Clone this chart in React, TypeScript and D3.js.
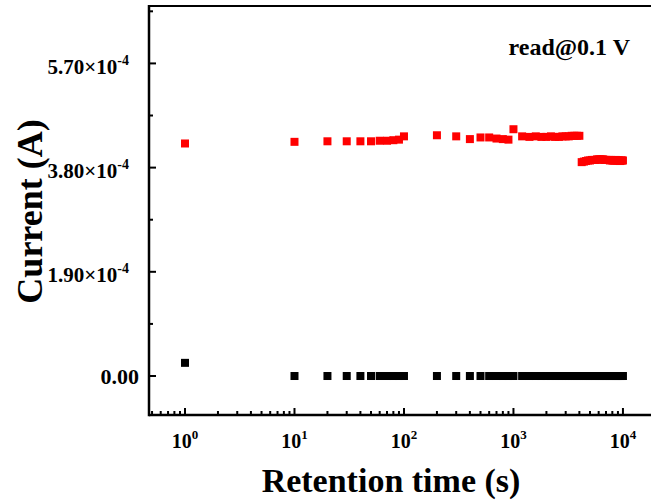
import React from "react";
import * as d3 from "d3";

const times = [1, 10, 20, 30, 40, 50, 60, 70, 80, 90, 100, 200, 300, 400, 500, 600, 700, 800, 900, 1000,
  1200, 1400, 1600, 1800, 2000, 2200, 2400, 2600, 2800, 3000, 3200, 3400, 3600, 3800, 4000,
  4200, 4400, 4600, 4800, 5000, 5200, 5400, 5600, 5800, 6000, 6200, 6400, 6600, 6800, 7000,
  7200, 7400, 7600, 7800, 8000, 8200, 8400, 8600, 8800, 9000, 9200, 9400, 9600, 9800, 10000];

// current in units of 1e-4 A
const redCurrent = [4.24, 4.27, 4.28, 4.28, 4.28, 4.28, 4.29, 4.29, 4.30, 4.31, 4.37, 4.39, 4.37, 4.32,
  4.35, 4.35, 4.33, 4.32, 4.31, 4.50,
  4.37, 4.36, 4.37, 4.36, 4.36, 4.37, 4.36, 4.36, 4.37, 4.37, 4.37, 4.38, 4.38, 4.38, 4.38,
  3.90, 3.91, 3.92, 3.93, 3.93, 3.94, 3.94, 3.94, 3.95, 3.95, 3.95, 3.95, 3.95, 3.94, 3.94,
  3.94, 3.94, 3.93, 3.94, 3.93, 3.93, 3.93, 3.94, 3.93, 3.93, 3.93, 3.92, 3.93, 3.93, 3.93];

const blackCurrent = [0.24, 0, 0, 0, 0, 0, 0, 0, 0, 0, 0, 0, 0, 0, 0, 0, 0, 0, 0, 0,
  0, 0, 0, 0, 0, 0, 0, 0, 0, 0, 0, 0, 0, 0, 0,
  0, 0, 0, 0, 0, 0, 0, 0, 0, 0, 0, 0, 0, 0, 0,
  0, 0, 0, 0, 0, 0, 0, 0, 0, 0, 0, 0, 0, 0, 0];

const yTicks = [0, 1.9, 3.8, 5.7];
const yTickMain = ["0.00", "1.90×10", "3.80×10", "5.70×10"];
const yTickExp = ["", "-4", "-4", "-4"];
const yMinorTicks = [0.95, 2.85, 4.75, 6.65];
const xTicks = [1, 10, 100, 1000, 10000];
const xTickExp = ["0", "1", "2", "3", "4"];
const xMinorTicks = [0.5, 0.6, 0.7, 0.8, 0.9,
  2, 3, 4, 5, 6, 7, 8, 9, 20, 30, 40, 50, 60, 70, 80, 90,
  200, 300, 400, 500, 600, 700, 800, 900, 2000, 3000, 4000, 5000, 6000, 7000, 8000, 9000];

const W = 651, H = 504;
const left = 149, top = 6, bottom = 415, right = 660;
const FONT = "'Liberation Serif', 'Times New Roman', serif";

export default function App() {
  const x = d3.scaleLog().domain([0.469, 21800]).range([left, right]);
  const y = d3.scaleLinear().domain([-0.711, 6.747]).range([bottom, top]);
  const ms = 8;

  return (
    <svg width={W} height={H} style={{ position: "absolute", left: 0, top: 0, background: "#fff" }}
      fontFamily={FONT}>
      <rect x={0} y={0} width={W} height={H} fill="#fff" />
      {times.map((t, i) => (
        <rect key={"b" + i} x={x(t) - ms / 2} y={y(blackCurrent[i]) - ms / 2} width={ms} height={ms} fill="#000" />
      ))}
      {times.map((t, i) => (
        <rect key={"r" + i} x={x(t) - ms / 2} y={y(redCurrent[i]) - ms / 2} width={ms} height={ms} fill="#ff0000" />
      ))}
      <line x1={left} y1={top} x2={W} y2={top} stroke="#000" strokeWidth={2} />
      <line x1={left} y1={top - 1} x2={left} y2={bottom + 1.25} stroke="#000" strokeWidth={2.5} />
      <line x1={left} y1={bottom} x2={W} y2={bottom} stroke="#000" strokeWidth={2.5} />
      {yTicks.map((v, i) => (
        <g key={"yt" + i}>
          <line x1={left} x2={left + 7} y1={y(v)} y2={y(v)} stroke="#000" strokeWidth={2} />
          <text x={yTickExp[i] ? 129 : 139} y={y(v) + (yTickExp[i] ? 10.5 : 7.5)} textAnchor="end"
            fontSize={yTickExp[i] ? 21 : 22} fontWeight="bold">
            {yTickMain[i]}
            {yTickExp[i] && <tspan fontSize={14} dy={-9}>{yTickExp[i]}</tspan>}
          </text>
        </g>
      ))}
      {yMinorTicks.map((v, i) => (
        <line key={"ym" + i} x1={left} x2={left + 4} y1={y(v)} y2={y(v)} stroke="#000" strokeWidth={2} />
      ))}
      {xTicks.map((v, i) => (
        <g key={"xt" + i}>
          <line x1={x(v)} x2={x(v)} y1={bottom} y2={bottom - 7} stroke="#000" strokeWidth={2} />
          <text x={x(v)} y={448} textAnchor="middle" fontSize={20} fontWeight="bold">
            10<tspan fontSize={13} dy={-9}>{xTickExp[i]}</tspan>
          </text>
        </g>
      ))}
      {xMinorTicks.map((v, i) => (
        <line key={"xm" + i} x1={x(v)} x2={x(v)} y1={bottom} y2={bottom - 4} stroke="#000" strokeWidth={2} />
      ))}
      <text x={391} y={492} textAnchor="middle" fontSize={34} fontWeight="bold">Retention time (s)</text>
      <text transform={`translate(42, 211.5) rotate(-90)`} textAnchor="middle" fontSize={36} fontWeight="bold">Current (A)</text>
      <text x={630} y={55} textAnchor="end" fontSize={24} fontWeight="bold">read@0.1 V</text>
    </svg>
  );
}
